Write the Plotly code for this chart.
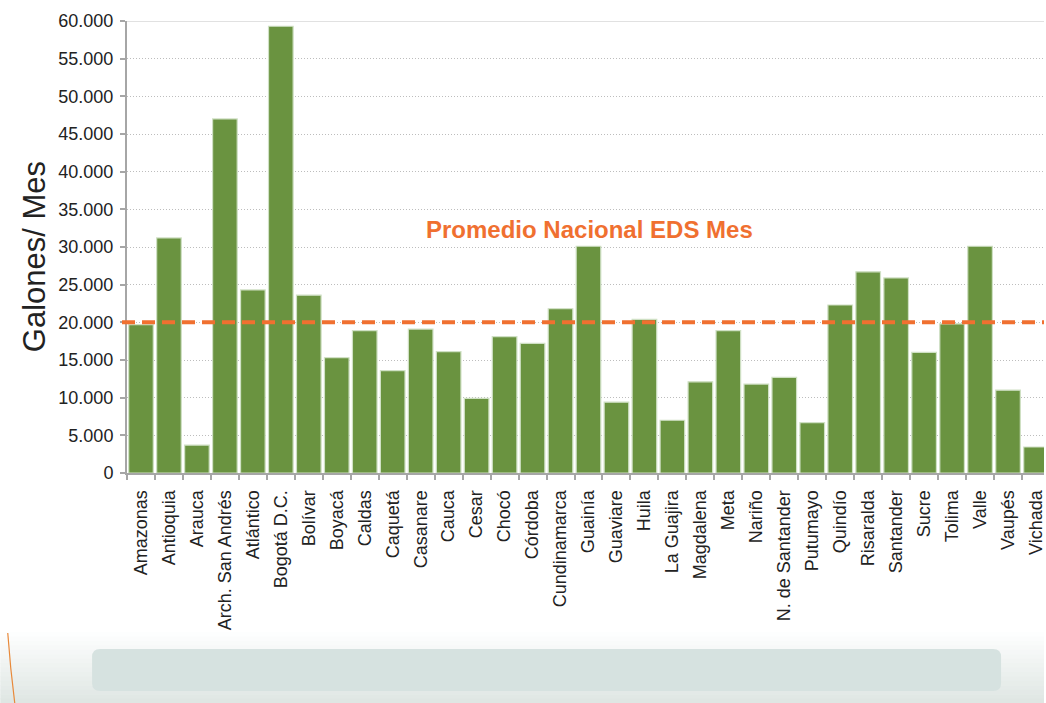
import plotly.graph_objects as go

# Departamentos y galones promedio por EDS al mes
departamentos = [
    "Amazonas", "Antioquia", "Arauca", "Arch. San Andrés", "Atlántico",
    "Bogotá D.C.", "Bolívar", "Boyacá", "Caldas", "Caquetá", "Casanare",
    "Cauca", "Cesar", "Chocó", "Córdoba", "Cundinamarca", "Guainía",
    "Guaviare", "Huila", "La Guajira", "Magdalena", "Meta", "Nariño",
    "N. de Santander", "Putumayo", "Quindío", "Risaralda", "Santander",
    "Sucre", "Tolima", "Valle", "Vaupés", "Vichada",
]
galones_mes = [
    19700, 31200, 3700, 47000, 24300,
    59300, 23600, 15300, 18900, 13600, 19100,
    16100, 9900, 18100, 17200, 21800, 30100,
    9400, 20400, 7000, 12100, 18900, 11800,
    12700, 6700, 22300, 26700, 25900,
    16000, 19800, 30100, 11000, 3450,
]
promedio_nacional = 20000
y_ticks = list(range(0, 60001, 5000))

W, H = 1046, 703
ML, MR, MT, MB = 127, 0, 21, 230
PW, PH = W - ML - MR, H - MT - MB


def px(x):
    """Pixel x -> paper x."""
    return (x - ML) / PW


def py(y):
    """Pixel y (from top) -> paper y."""
    return (H - MB - y) / PH


FONT = "Liberation Sans, Arial, sans-serif"
ORANGE = "#F07030"
TEXT = "#222222"

fig = go.Figure()
fig.add_trace(go.Bar(
    x=departamentos,
    y=galones_mes,
    marker=dict(color="#6A9340", line=dict(color="#cfe0c4", width=1.2)),
    hoverinfo="x+y",
))

shapes = []

# soft footer band (stacked strips for a vertical fade)
top, bottom, n = 632, 703, 16
for i in range(n):
    t = (i + 0.5) / n
    r = int(255 - t * (255 - 222))
    g = int(255 - t * (255 - 230))
    b = int(255 - t * (255 - 227))
    y0 = top + (bottom - top) * i / n
    y1 = top + (bottom - top) * (i + 1) / n + 0.6
    shapes.append(dict(type="rect", xref="paper", yref="paper",
                       x0=px(0), x1=px(W), y0=py(y1), y1=py(y0),
                       fillcolor=f"rgb({r},{g},{b})", line=dict(width=0),
                       layer="below"))

# rounded panel in the footer
x0p, x1p, y0p, y1p, rad = 92, 1003, 649, 691, 8
path = (
    f"M {px(x0p + rad)} {py(y0p)} L {px(x1p - rad)} {py(y0p)} "
    f"Q {px(x1p)} {py(y0p)} {px(x1p)} {py(y0p + rad)} "
    f"L {px(x1p)} {py(y1p - rad)} "
    f"Q {px(x1p)} {py(y1p)} {px(x1p - rad)} {py(y1p)} "
    f"L {px(x0p + rad)} {py(y1p)} "
    f"Q {px(x0p)} {py(y1p)} {px(x0p)} {py(y1p - rad)} "
    f"L {px(x0p)} {py(y0p + rad)} "
    f"Q {px(x0p)} {py(y0p)} {px(x0p + rad)} {py(y0p)} Z"
)
shapes.append(dict(type="path", xref="paper", yref="paper", path=path,
                   fillcolor="#d6e2e0", line=dict(width=0), layer="below"))

# thin orange accent curve at the left
shapes.append(dict(type="path", xref="paper", yref="paper",
                   path=f"M {px(7.5)} {py(633)} Q {px(10)} {py(668)} {px(14.5)} {py(703)}",
                   line=dict(color="#E8893A", width=1.2)))

# solid top border of the plot
shapes.append(dict(type="line", xref="paper", yref="y", x0=0, x1=1,
                   y0=y_ticks[-1], y1=y_ticks[-1],
                   line=dict(color="#c4c4c4", width=1), layer="below"))

# national average line
shapes.append(dict(type="line", xref="paper", yref="y", x0=px(122), x1=1,
                   y0=promedio_nacional, y1=promedio_nacional,
                   line=dict(color=ORANGE, width=4, dash="13px,7px")))

fig.update_layout(
    width=W, height=H, autosize=False,
    margin=dict(l=ML, r=MR, t=MT, b=MB, pad=0),
    paper_bgcolor="white", plot_bgcolor="white",
    separators=",.",
    bargap=0.12,
    showlegend=False,
    font=dict(family=FONT, size=18, color=TEXT),
    shapes=shapes,
    annotations=[
        dict(text="<b>Promedio Nacional EDS Mes</b>", xref="paper", yref="paper",
             x=px(591), y=py(229), xanchor="center", yanchor="middle",
             showarrow=False, font=dict(family=FONT, size=24, color=ORANGE)),
        # y-axis title
        dict(text="Galones/ Mes", xref="paper", yref="paper",
             x=px(34), y=py(257), xanchor="center", yanchor="middle",
             textangle=-90, showarrow=False,
             font=dict(family=FONT, size=31, color=TEXT)),
    ],
)

fig.update_xaxes(
    type="category",
    range=[-0.5, -0.5 + PW / 28.03],
    tickangle=-90,
    tickson="boundaries",
    ticks="outside", ticklen=5, tickwidth=1.5, tickcolor="#a6a6a6",
    ticklabelstandoff=8,
    showline=True, linecolor="#a6a6a6", linewidth=2,
    showgrid=False,
    tickfont=dict(family=FONT, size=18, color=TEXT),
)

fig.update_yaxes(
    range=[0, y_ticks[-1]],
    tickvals=y_ticks,
    tickformat=",d",
    ticks="outside", ticklen=5, tickwidth=1.5, tickcolor="#a6a6a6",
    ticklabelstandoff=3,
    showline=True, linecolor="#a6a6a6", linewidth=2,
    showgrid=True, gridcolor="#bdbdbd", gridwidth=1, griddash="1px,2px",
    zeroline=False,
    tickfont=dict(family=FONT, size=18, color=TEXT),
)

fig.write_html("out.html")
